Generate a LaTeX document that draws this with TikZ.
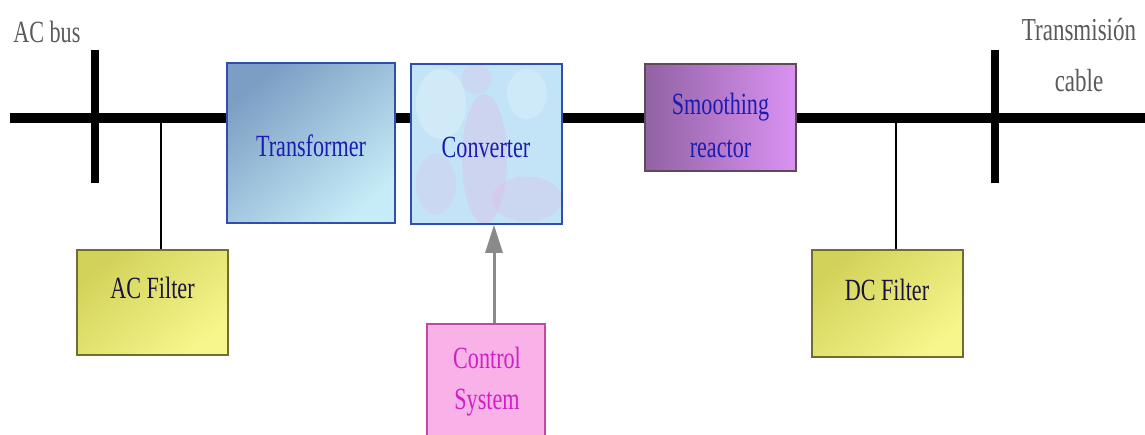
\documentclass[tikz,border=0pt]{standalone}
\usepackage{fontspec}
\usepackage{graphicx}
\setmainfont{Liberation Serif}
\usetikzlibrary{arrows.meta}
\newcommand{\tall}[1]{\scalebox{0.97}[1.35]{#1}}
\definecolor{trA}{HTML}{7C9EC4}
\definecolor{trB}{HTML}{C6ECF7}
\definecolor{trEdge}{HTML}{2E4FB0}
\definecolor{cvA}{HTML}{C2E4F6}
\definecolor{cvPink}{HTML}{E2B8E6}
\definecolor{smA}{HTML}{9262A4}
\definecolor{smB}{HTML}{DA92F2}
\definecolor{smEdge}{HTML}{5C4A56}
\definecolor{flA}{HTML}{D2D25A}
\definecolor{flB}{HTML}{F6F68C}
\definecolor{flEdge}{HTML}{6E6E30}
\definecolor{ctFill}{HTML}{F8B2E8}
\definecolor{ctEdge}{HTML}{C248A8}
\definecolor{ctText}{HTML}{D020C4}
\definecolor{blueText}{HTML}{1C1CB0}
\definecolor{darkText}{HTML}{1A1240}
\definecolor{grayText}{HTML}{5A5A5A}
\definecolor{arrowGray}{HTML}{8A8A8A}
\tikzset{
  sz/.style 2 args={minimum width=#1*0.02cm, minimum height=#2*0.02cm},
  blk/.style={draw, line width=0.9pt, inner sep=0pt},
  lbl/.style={inner sep=0pt, font=\fontsize{13}{15}\selectfont},
  bus/.style={line width=0.2cm},
  busbar/.style={line width=0.16cm},
  tap/.style={line width=0.7pt},
}
\begin{document}
\begin{tikzpicture}[x=0.02cm,y=-0.02cm]
\clip (0,0) rectangle (1145,435);
\fill[white] (0,0) rectangle (1145,435);

% coordinates
\coordinate (busL) at (10,118);
\coordinate (busR) at (1145,118);
\coordinate (acTop) at (95,50);
\coordinate (acBot) at (95,183);
\coordinate (tmTop) at (995,50);
\coordinate (tmBot) at (995,183);
\coordinate (tapAC) at (161,118);
\coordinate (tapDC) at (896,118);

% boxes
\node[blk, draw=trEdge, top color=trA, bottom color=trB, shading angle=40, sz={168}{160}] (tr) at (311,143) {};
\node[blk, draw=trEdge, fill=cvA, sz={151}{160},
  path picture={
    \fill[cvPink, opacity=0.35] (path picture bounding box.center) ++(-2,15) ellipse (0.45cm and 1.3cm);
    \fill[cvPink, opacity=0.3] (path picture bounding box.south east) ++(-35,-25) ellipse (0.7cm and 0.45cm);
    \fill[white, opacity=0.25] (path picture bounding box.north west) ++(30,40) ellipse (0.5cm and 0.7cm);
    \fill[cvPink, opacity=0.25] (path picture bounding box.south west) ++(25,-40) ellipse (0.4cm and 0.6cm);
    \fill[white, opacity=0.2] (path picture bounding box.north east) ++(-35,30) ellipse (0.4cm and 0.5cm);
    \fill[cvPink, opacity=0.25] (path picture bounding box.north) ++(-10,15) ellipse (0.3cm and 0.3cm);
  }] (conv) at (486.5,144) {};
\node[blk, draw=smEdge, left color=smA, right color=smB, sz={151}{107}] (sm) at (720.5,117.5) {};
\node[blk, draw=flEdge, top color=flA, bottom color=flB, shading angle=40, sz={151}{105}] (acf) at (152.5,302.5) {};
\node[blk, draw=flEdge, top color=flA, bottom color=flB, shading angle=40, sz={151}{107}] (dcf) at (887.5,303.5) {};
\node[blk, draw=ctEdge, fill=ctFill, sz={118}{124}] (ctrl) at (486,386) {};

% bus segments
\draw[bus] (busL) -- (tr.west |- busL);
\draw[bus] (tr.east |- busL) -- (conv.west |- busL);
\draw[bus] (conv.east |- busL) -- (sm.west |- busL);
\draw[bus] (sm.east |- busL) -- (busR);
\draw[busbar] (acTop) -- (acBot);
\draw[busbar] (tmTop) -- (tmBot);

% taps
\draw[tap] (tapAC) -- (tapAC |- acf.north);
\draw[tap] (tapDC) -- (tapDC |- dcf.north);

% control arrow
\coordinate (arrX) at (494,0);
\draw[arrowGray, line width=1.7pt, -{Triangle[length=0.56cm, width=0.34cm]}]
  (arrX |- ctrl.north) -- (arrX |- conv.south);

% texts
\node[lbl, text=blueText, anchor=base] (trT) at (311,157) {\tall{Transformer}};
\node[lbl, text=blueText, anchor=base] (convT) at (486,158) {\tall{Converter}};
\node[lbl, text=blueText, anchor=north, align=center, font=\fontsize{13}{24.4}\selectfont] (smT) at (720.5,93) {\tall{Smoothing}\\\tall{reactor}};
\node[lbl, text=darkText, anchor=base] (acfT) at (152.5,298) {\tall{AC Filter}};
\node[lbl, text=darkText, anchor=base] (dcfT) at (887,300) {\tall{DC Filter}};
\node[lbl, text=ctText, anchor=north, align=center, font=\fontsize{13}{23.2}\selectfont] (ctrlT) at (487,347) {\tall{Control}\\\tall{System}};
\node[lbl, text=grayText, anchor=base west] (acbus) at (13,43) {\tall{AC bus}};
\node[lbl, text=grayText, anchor=north, align=center, font=\fontsize{13.5}{29}\selectfont] (tmT) at (1079,18) {\tall{Transmisión}\\\tall{cable}};
\end{tikzpicture}
\end{document}
